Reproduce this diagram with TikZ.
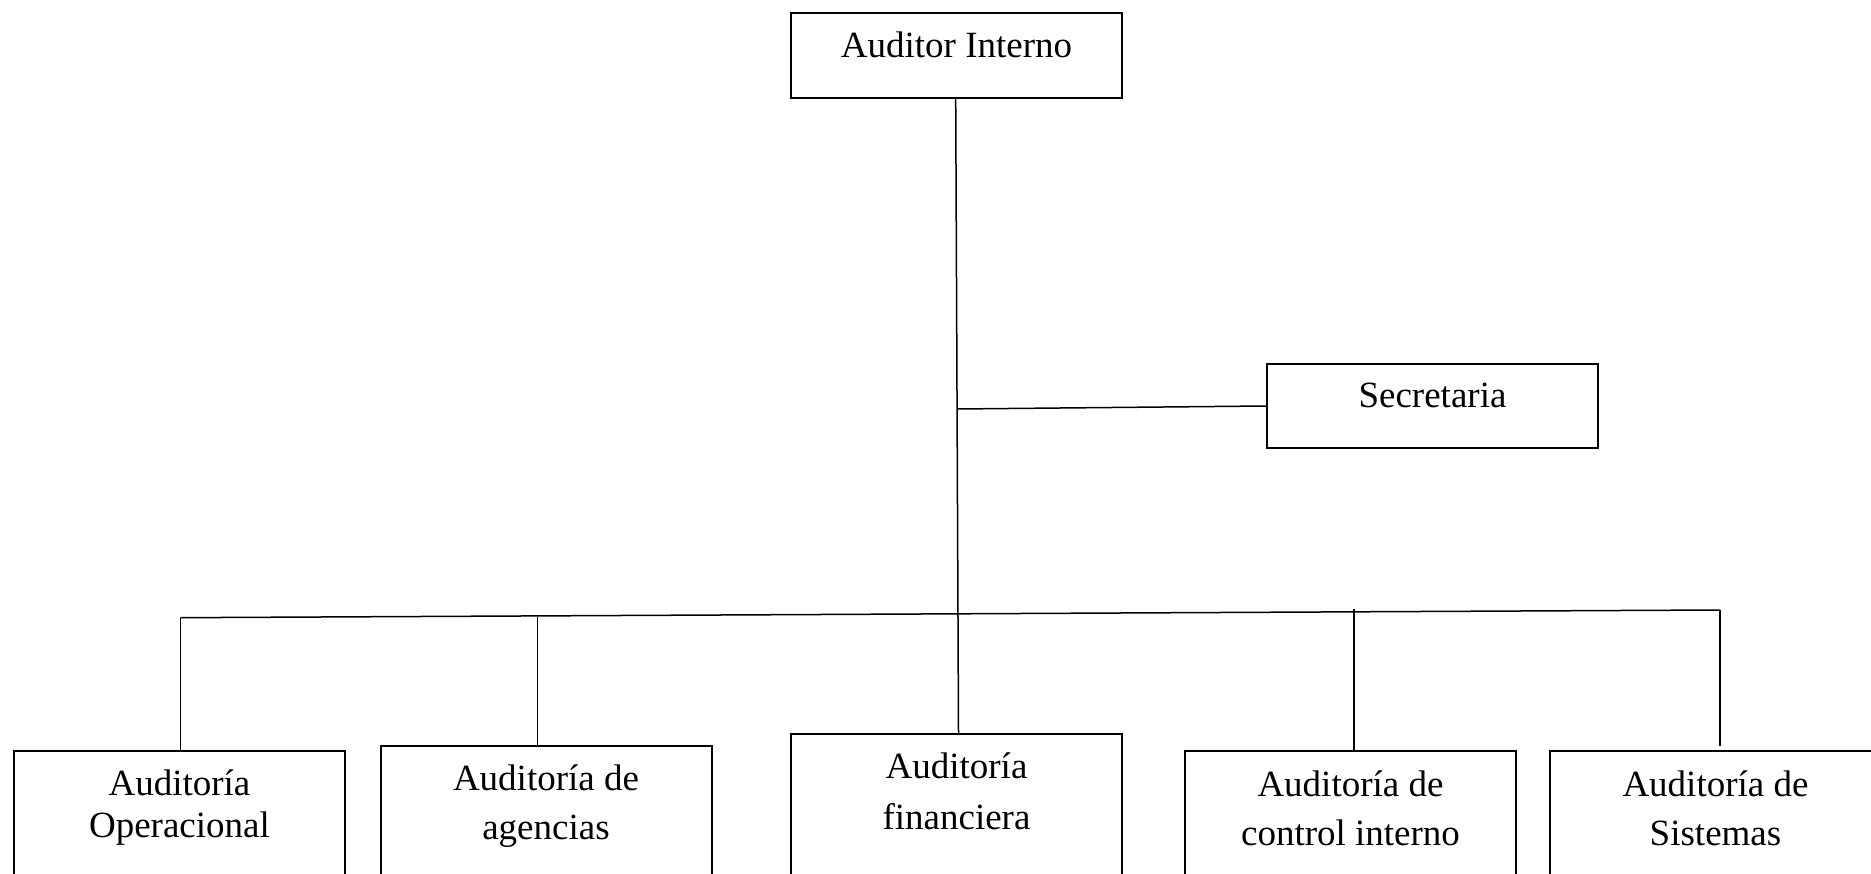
\documentclass[tikz,border=0pt]{standalone}
\usepackage{fontspec}
\setmainfont{Liberation Serif}
\usetikzlibrary{calc}
\begin{document}
\begin{tikzpicture}[x=1pt,y=1pt,
  box/.style={draw, line width=2pt, minimum width=331pt, inner sep=0pt, anchor=north},
  link/.style={line width=1.5pt},
  txt/.style={anchor=base, inner sep=0pt, font=\fontsize{37}{42}\selectfont}]
\useasboundingbox (0,0) rectangle (1871,-874);
\clip (0,0) rectangle (1871,-874);

% boxes
\node[box, minimum height=85pt] (jefe) at (956.5,-12) {};
\node[box, minimum height=84pt] (sec) at (1432.5,-363) {};
\node[box, minimum height=200pt] (op) at (179.5,-750) {};
\node[box, minimum height=200pt] (ag) at (546,-745) {};
\node[box, minimum height=200pt] (fin) at (956.5,-733) {};
\node[box, minimum height=200pt] (ci) at (1350.5,-750) {};
\node[box, minimum height=200pt] (sis) at (1715.5,-750) {};

% labels
\node[txt] at ($(jefe.north)+(0,-46)$) {Auditor Interno};
\node[txt] at ($(sec.north)+(0,-44)$) {Secretaria};
\node[txt] at ($(op.north)+(0,-45.5)$) {Auditoría};
\node[txt] at ($(op.north)+(0,-87.5)$) {Operacional};
\node[txt] at ($(ag.north)+(0,-45)$) {Auditoría de};
\node[txt] at ($(ag.north)+(0,-94.5)$) {agencias};
\node[txt] at ($(fin.north)+(0,-45.3)$) {Auditoría};
\node[txt] at ($(fin.north)+(0,-96.8)$) {financiera};
\node[txt] at ($(ci.north)+(0,-46)$) {Auditoría de};
\node[txt] at ($(ci.north)+(0,-95)$) {control interno};
\node[txt] at ($(sis.north)+(0,-46.5)$) {Auditoría de};
\node[txt] at ($(sis.north)+(0,-95.5)$) {Sistemas};

% connectors
\coordinate (jS) at (957,-409);
\coordinate (busL) at (180.4,-617.7);
\coordinate (busR) at (1720,-610);
\coordinate (bAg) at (537.6,-616.6);
\coordinate (bCi) at (1354,-609);

\draw[link] ($(jefe.south)+(-0.8,0)$) -- ($(fin.north)+(2,0)$);
\draw[link] (jS) -- (sec.west);
\draw[link] (busL) -- (busR);
\draw[link] (busL) -- (busL |- op.north);
\draw[link] (bAg) -- (bAg |- ag.north);
\draw[link] (bCi) -- (bCi |- ci.north);
\draw[link] (busR) -- ($(busR |- sis.north)+(0,4)$);
\end{tikzpicture}
\end{document}
